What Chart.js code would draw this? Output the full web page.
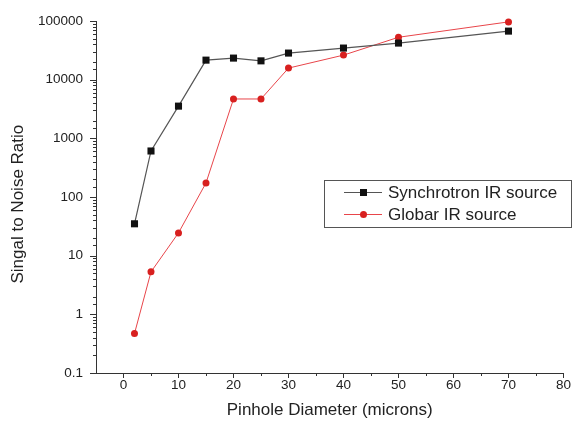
<!DOCTYPE html>
<html>
<head>
<meta charset="utf-8">
<script src="https://cdn.jsdelivr.net/npm/chart.js@4.4.1/dist/chart.umd.min.js"></script>
<style>
  html, body { margin: 0; padding: 0; background: #fff; }
  #wrap { width: 575px; height: 427px; position: relative; }
</style>
</head>
<body>
<div id="wrap"><canvas id="snrChart"></canvas></div>
<script>
// pinhole diameters (microns)
var pinholes = [2, 5, 10, 15, 20, 25, 30, 40, 50, 70];
// signal to noise
var synchrotron = [35, 610, 3550, 21600, 23400, 21000, 28500, 34700, 42200, 67500];
var globar = [0.47, 5.3, 24.5, 174, 4700, 4700, 15800, 26300, 53000, 97000];
var seriesNames = ['Synchrotron IR source', 'Globar IR source'];

var FONT = 'Liberation Sans, Arial, sans-serif';

function toPoints(ys) {
    return pinholes.map(function(x, i) { return {x: x, y: ys[i]}; });
}

function isDecade(v) {
    var l = Math.log10(v);
    return Math.abs(l - Math.round(l)) < 1e-6;
}

// ticks drawn by hand so major/minor get different lengths
var tickPlugin = {
    id: 'ticks',
    afterDraw: function(chart) {
        var ctx = chart.ctx, xs = chart.scales.x, ys = chart.scales.y;
        var area = chart.chartArea;
        ctx.save();
        ctx.strokeStyle = '#333';
        ctx.lineWidth = 1;
        ctx.beginPath();
        ys.ticks.forEach(function(t) {
            var y = Math.round(ys.getPixelForValue(t.value)) + 0.5;
            var len = isDecade(t.value) ? 6 : 3;
            ctx.moveTo(area.left - len, y);
            ctx.lineTo(area.left, y);
        });
        xs.ticks.forEach(function(t) {
            if (t.value < 0) return;
            var x = Math.round(xs.getPixelForValue(t.value)) + 0.5;
            var len = (t.value % 10 === 0) ? 5 : 3;
            ctx.moveTo(x, area.bottom);
            ctx.lineTo(x, area.bottom + len);
        });
        ctx.stroke();
        ctx.restore();
    }
};

// boxed legend inside the plot like the original
var legendPlugin = {
    id: 'boxLegend',
    afterDraw: function(chart) {
        var ctx = chart.ctx;
        var bx = 324, by = 180, bw = 247, bh = 47;
        ctx.save();
        ctx.fillStyle = '#fff';
        ctx.fillRect(bx, by, bw, bh);
        ctx.strokeStyle = '#555';
        ctx.lineWidth = 1;
        ctx.strokeRect(bx + 0.5, by + 0.5, bw, bh);
        chart.data.datasets.forEach(function(ds, i) {
            var y = by + 12 + i * 22;
            ctx.strokeStyle = ds.borderColor;
            ctx.lineWidth = 1;
            ctx.beginPath();
            ctx.moveTo(bx + 20, y + 0.5);
            ctx.lineTo(bx + 58, y + 0.5);
            ctx.stroke();
            ctx.fillStyle = ds.pointBackgroundColor;
            if (ds.pointStyle === 'rect') {
                ctx.fillRect(bx + 36, y - 3, 7, 7);
            } else {
                ctx.beginPath();
                ctx.arc(bx + 39.5, y + 0.5, 3.5, 0, Math.PI * 2);
                ctx.fill();
            }
            ctx.fillStyle = '#222';
            ctx.font = '17px ' + FONT;
            ctx.textBaseline = 'middle';
            ctx.fillText(ds.label, bx + 64, y + 1);
        });
        ctx.restore();
    }
};

new Chart(document.getElementById('snrChart').getContext('2d'), {
    type: 'line',
    data: {
        datasets: [{
            label: seriesNames[0],
            data: toPoints(synchrotron),
            borderColor: '#555',
            borderWidth: 1.2,
            pointStyle: 'rect',
            pointRadius: 5,
            pointBackgroundColor: '#111',
            pointBorderColor: '#111',
            pointBorderWidth: 0
        }, {
            label: seriesNames[1],
            data: toPoints(globar),
            borderColor: '#e8454a',
            borderWidth: 1,
            pointStyle: 'circle',
            pointRadius: 3.5,
            pointBackgroundColor: '#d8201f',
            pointBorderColor: '#d8201f',
            pointBorderWidth: 0
        }]
    },
    options: {
        responsive: true,
        maintainAspectRatio: false,
        animation: false,
        clip: false,
        layout: {
            padding: { left: 0, right: 8, top: 21, bottom: 0 }
        },
        plugins: {
            legend: { display: false },
            tooltip: { enabled: false }
        },
        scales: {
            x: {
                type: 'linear',
                min: -5,
                max: 80,
                afterFit: function(s) { s.height = 54; },
                grid: { display: true, drawOnChartArea: false, drawTicks: false },
                border: { display: true, color: '#333', width: 1 },
                ticks: {
                    stepSize: 5,
                    padding: 4,
                    color: '#222',
                    font: { family: FONT, size: 13.5 },
                    maxRotation: 0,
                    autoSkip: false,
                    callback: function(v) { return (v >= 0 && v % 10 === 0) ? String(v) : ''; }
                },
                title: {
                    display: true,
                    text: 'Pinhole Diameter (microns)',
                    color: '#222',
                    font: { family: FONT, size: 17 },
                    padding: { top: 0, bottom: 6 }
                }
            },
            y: {
                type: 'logarithmic',
                min: 0.1,
                max: 100000,
                afterFit: function(s) { s.width = 96; },
                grid: { display: true, drawOnChartArea: false, drawTicks: false },
                border: { display: true, color: '#333', width: 1 },
                ticks: {
                    padding: 13,
                    color: '#222',
                    font: { family: FONT, size: 13.5 },
                    autoSkip: false,
                    callback: function(v) {
                        if (!isDecade(v)) return '';
                        return v < 1 ? v.toFixed(1) : String(Math.round(v));
                    }
                },
                title: {
                    display: true,
                    // trailing spaces nudge the rotated title down a little, as in the original
                    text: 'Singal to Noise Ratio   ',
                    color: '#222',
                    font: { family: FONT, size: 17 },
                    padding: { top: 8, bottom: 0 }
                }
            }
        }
    },
    plugins: [tickPlugin, legendPlugin]
});
</script>
</body>
</html>
